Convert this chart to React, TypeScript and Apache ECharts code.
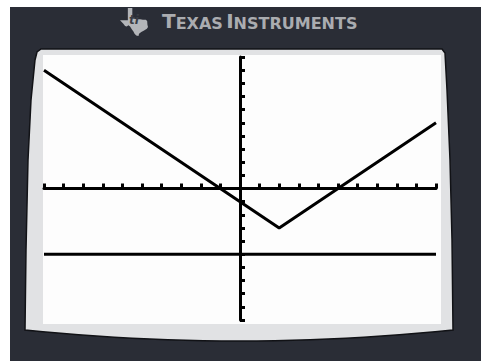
import React, { useEffect, useRef } from "react";
import * as echarts from "echarts";

// Graph of y = |x - 2| - 3 (vertex at (2, -3)), sampled at the window edges and the vertex
const vX = [-10, 2, 10];
const vY = [9, -3, 5];

// Horizontal graph y = -5 across the window
const levelX = [-10, 10];
const levelY = [-5, -5];

// Window settings
const xWindow = [-10, 10];
const yWindow = [-10, 10];
const scale = 1;

const W = 481;
const H = 361;

// Texas outline for the maker's badge (100 x 100 box)
const TEXAS_D =
  "M28 0 L44 0 L44 36 L52 38 L62 40 L72 40 L82 42 L92 42 L97 46 L98 60 L100 68 L96 74 L86 80 L76 86 L68 92 L66 100 L58 98 L52 92 L48 84 L42 76 L36 66 L30 62 L24 66 L18 64 L12 56 L6 50 L0 44 L28 44 Z";

let shapeRegistered = false;
function registerShapes() {
  if (shapeRegistered) return;
  echarts.graphic.registerShape("texas", echarts.graphic.extendPath(TEXAS_D, {}) as any);
  shapeRegistered = true;
}

// Outline of the screen bezel: slanted sides and a sagging bottom edge
function bezelPoints(): number[][] {
  const pts: number[][] = [
    [41, 49],
    [442, 49],
    [445, 53],
    [447, 90],
    [450, 160],
    [452, 240],
    [453, 330],
  ];
  const x0 = 453;
  const x1 = 25;
  const cx = (x0 + x1) / 2;
  const half = (x0 - x1) / 2;
  for (let i = 1; i < 24; i++) {
    const x = x0 - ((x0 - x1) * i) / 24;
    const t = (x - cx) / half;
    pts.push([x, 330 + 11 * (1 - t * t)]);
  }
  pts.push([25, 330], [26, 250], [28, 160], [31, 100], [35, 60], [37, 52]);
  return pts;
}

export default function App() {
  const ref = useRef<HTMLDivElement>(null);

  useEffect(() => {
    if (!ref.current) return;
    registerShapes();
    const chart = echarts.init(ref.current, undefined, { renderer: "svg" });

    const axisCommon = {
      type: "value" as const,
      interval: scale,
      z: 5,
      axisLine: { show: true, onZero: true, lineStyle: { color: "#000", width: 3 } },
      axisTick: { show: true, inside: true, length: 5, lineStyle: { color: "#000", width: 3 } },
      axisLabel: { show: false },
      splitLine: { show: false },
    };

    chart.setOption({
      animation: false,
      backgroundColor: "#ffffff",
      grid: { left: 44, right: 45, top: 57, bottom: 41 },
      xAxis: { ...axisCommon, min: xWindow[0], max: xWindow[1] },
      yAxis: { ...axisCommon, min: yWindow[0], max: yWindow[1] },
      graphic: {
        elements: [
          {
            type: "rect",
            z: -10,
            silent: true,
            shape: { x: 10, y: 7, width: W - 10, height: H - 7 },
            style: { fill: "#2a2d36" },
          },
          {
            type: "polygon",
            z: -9,
            silent: true,
            shape: { points: bezelPoints() },
            style: { fill: "#e1e2e4", stroke: "#111216", lineWidth: 1.5 },
          },
          {
            type: "rect",
            z: -8,
            silent: true,
            shape: { x: 43, y: 55, width: 398, height: 269 },
            style: { fill: "#fdfdfd" },
          },
          {
            type: "texas",
            z: -7,
            silent: true,
            x: 120,
            y: 8,
            scaleX: 0.28,
            scaleY: 0.28,
            style: { fill: "#b3b5b9" },
          },
          {
            type: "text",
            z: -6,
            silent: true,
            x: 129,
            y: 14,
            style: {
              text: "ti",
              fill: "#3a3d45",
              font: "italic bold 12px 'DejaVu Sans'",
            },
          },
          {
            type: "text",
            z: -6,
            silent: true,
            x: 162,
            y: 31,
            scaleX: 1.0,
            style: {
              text: "{b|T}{s|EXAS} {b|I}{s|NSTRUMENTS}",
              verticalAlign: "bottom",
              rich: {
                b: {
                  fontFamily: "'DejaVu Sans'",
                  fontWeight: "bold",
                  fontSize: 20,
                  fill: "#aaacb0",
                  verticalAlign: "bottom",
                },
                s: {
                  fontFamily: "'DejaVu Sans'",
                  fontWeight: "bold",
                  fontSize: 16,
                  fill: "#aaacb0",
                  verticalAlign: "bottom",
                },
              },
            },
          },
        ],
      },
      series: [
        {
          type: "line",
          z: 6,
          symbol: "none",
          data: levelX.map((x, i) => [x, levelY[i]]),
          lineStyle: { color: "#000", width: 3 },
        },
        {
          type: "line",
          z: 6,
          symbol: "none",
          data: vX.map((x, i) => [x, vY[i]]),
          lineStyle: { color: "#000", width: 3 },
        },
      ],
    });

    return () => chart.dispose();
  }, []);

  return (
    <div
      ref={ref}
      style={{ position: "fixed", left: 0, top: 0, width: W, height: H }}
    />
  );
}
